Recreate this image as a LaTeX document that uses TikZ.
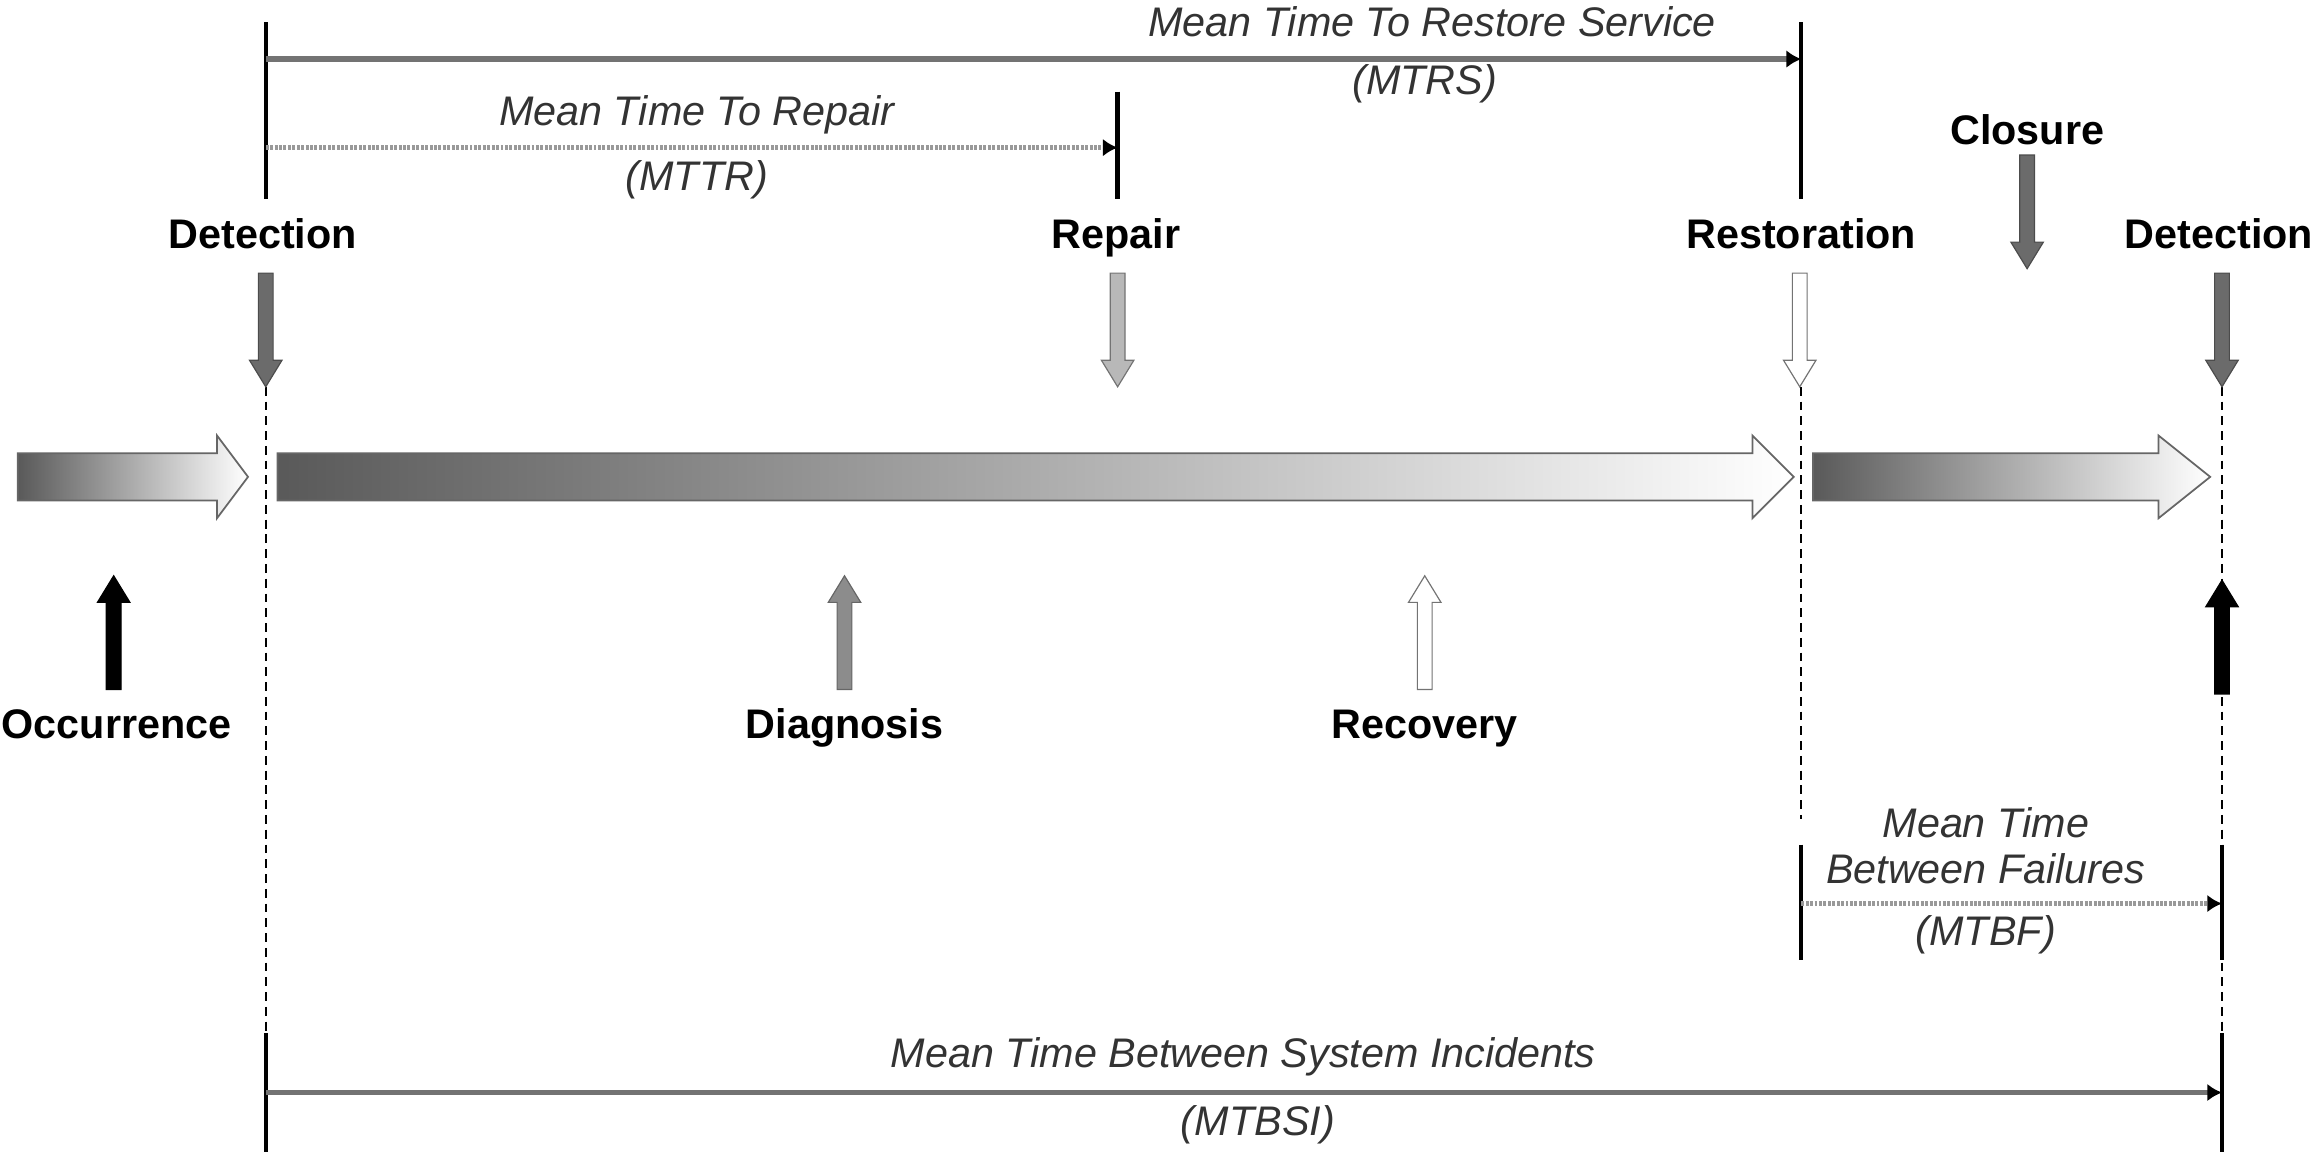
\documentclass[tikz,border=0pt]{standalone}
\usepackage{fontspec}
\setmainfont{Liberation Sans}
\usetikzlibrary{arrows.meta}

\tikzset{
  event/.style={font=\fontsize{14}{16}\selectfont\bfseries,text height=0.74em,text depth=0.22em},
  period/.style={font=\fontsize{14}{15.5}\selectfont\itshape,text=black!80,align=center},
  tick/.style={line width=1.5pt},
  guide/.style={line width=0.6pt,dash pattern=on 3pt off 2pt},
  span/.style={line width=2pt,draw=black!55,-{Latex[length=5pt,width=6pt,black]}},
  dspan/.style={span,line width=1.6pt,draw=black!40,dash pattern=on 1pt off 0.5pt},
  flow/.style={left color=black!65,right color=white,draw=black!60,line width=0.6pt},
  pics/downblock/.style={code={
    \draw[pic actions] (-5,0) -- (5,0) -- (5,59) -- (11,59) -- (0,77) -- (-11,59) -- (-5,59) -- cycle;}},
}

\begin{document}
\begin{tikzpicture}[x=0.5pt,y=-0.5pt]
\useasboundingbox (0,0) rectangle (1568,780);

% dashed guides
\coordinate (gA1) at (180,262);  \coordinate (gA2) at (180,700);
\coordinate (gB1) at (1220,262); \coordinate (gB2) at (1220,555);
\coordinate (gC1) at (1505,262); \coordinate (gC2) at (1505,700);
\draw[guide] (gA1) -- (gA2);
\draw[guide] (gB1) -- (gB2);
\draw[guide] (gC1) -- (gC2);

% time line
\shade[flow] (12,307) -- (147,307) -- (147,295) -- (168,323) -- (147,351) -- (147,339) -- (12,339) -- cycle;
\shade[flow] (188,307) -- (1187,307) -- (1187,295) -- (1215,323) -- (1187,351) -- (1187,339) -- (188,339) -- cycle;
\shade[flow] (1228,307) -- (1462,307) -- (1462,295) -- (1497,323) -- (1462,351) -- (1462,339) -- (1228,339) -- cycle;

% upper marks
\coordinate (detA-top) at (180,15);  \coordinate (detA-bot) at (180,135);
\coordinate (rep-top) at (757,62);   \coordinate (rep-bot) at (757,135);
\coordinate (res-top) at (1220,15);  \coordinate (res-bot) at (1220,135);
\draw[tick] (detA-top) -- (detA-bot);
\draw[tick] (rep-top) -- (rep-bot);
\draw[tick] (res-top) -- (res-bot);

\coordinate (mtrs-a) at (180,40);  \coordinate (mtrs-b) at (1220,40);
\coordinate (mttr-a) at (180,100); \coordinate (mttr-b) at (757,100);
\draw[span] (mtrs-a) -- (mtrs-b);
\draw[dspan] (mttr-a) -- (mttr-b);
\node[period] (mtrs) at (970,15) {Mean Time To Restore Service};
\node[period] (mtrs-ab) at (965,57) {(MTRS)};
\node[period] (mttr) at (472,78) {Mean Time To Repair};
\node[period] (mttr-ab) at (472,122) {(MTTR)};

% events
\node[event] (detA) at (178,163) {Detection};
\node[event] (rep) at (756,163) {Repair};
\node[event] (res) at (1220,163) {Restoration};
\node[event] (detB) at (1503,163) {Detection};
\node[event] (clo) at (1373,93) {Closure};
\pic[fill=black!58,draw=black!70] at (180,185) {downblock};
\pic[fill=black!28,draw=black!55] at (757,185) {downblock};
\pic[fill=white,draw=black!55] at (1219,185) {downblock};
\pic[fill=black!58,draw=black!70] at (1505,185) {downblock};
\pic[fill=black!58,draw=black!70] at (1373,105) {downblock};

% stages
\pic[rotate=180,fill=black,draw=black] at (77,467) {downblock};
\pic[rotate=180,fill=black!45,draw=black!60] at (572,467) {downblock};
\pic[rotate=180,fill=white,draw=black!55] at (965,467) {downblock};
\pic[rotate=180,fill=black,draw=black] at (1505,470) {downblock};
\node[event] (occ) at (79,495) {Occurrence};
\node[event] (dia) at (572,495) {Diagnosis};
\node[event] (rec) at (965,495) {Recovery};

% lower marks
\coordinate (mtbf-l1) at (1220,572); \coordinate (mtbf-l2) at (1220,650);
\coordinate (mtbf-r1) at (1505,572); \coordinate (mtbf-r2) at (1505,650);
\coordinate (mtbsi-l1) at (180,700); \coordinate (mtbsi-l2) at (180,780);
\coordinate (mtbsi-r1) at (1505,700); \coordinate (mtbsi-r2) at (1505,780);
\draw[tick] (mtbf-l1) -- (mtbf-l2);
\draw[tick] (mtbf-r1) -- (mtbf-r2);
\draw[tick] (mtbsi-l1) -- (mtbsi-l2);
\draw[tick] (mtbsi-r1) -- (mtbsi-r2);

\coordinate (mtbf-a) at (1220,612); \coordinate (mtbf-b) at (1505,612);
\coordinate (mtbsi-a) at (180,740); \coordinate (mtbsi-b) at (1505,740);
\draw[dspan] (mtbf-a) -- (mtbf-b);
\draw[span] (mtbsi-a) -- (mtbsi-b);
\node[period] (mtbf) at (1345,573) {Mean Time\\Between Failures};
\node[period] (mtbf-ab) at (1345,633) {(MTBF)};
\node[period] (mtbsi) at (842,716) {Mean Time Between System Incidents};
\node[period] (mtbsi-ab) at (852,762) {(MTBSI)};
\end{tikzpicture}
\end{document}
